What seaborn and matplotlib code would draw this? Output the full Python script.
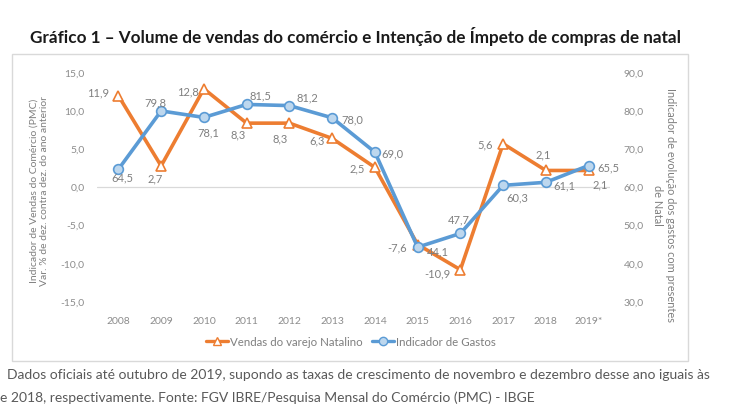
import matplotlib
matplotlib.use("Agg")
import matplotlib.pyplot as plt
import matplotlib.patches as mpatches
from matplotlib.lines import Line2D
import seaborn as sns
import pandas as pd

years = ["2008", "2009", "2010", "2011", "2012", "2013", "2014", "2015", "2016", "2017", "2018", "2019*"]
vendas = [11.9, 2.7, 12.8, 8.3, 8.3, 6.3, 2.5, -7.6, -10.9, 5.6, 2.1, 2.1]
gastos = [64.5, 79.8, 78.1, 81.5, 81.2, 78.0, 69.0, 44.1, 47.7, 60.3, 61.1, 65.5]
left_ticks = [-15, -10, -5, 0, 5, 10, 15]
right_ticks = [30, 40, 50, 60, 70, 80, 90]

title = "Gráfico 1 – Volume de vendas do comércio e Intenção de Ímpeto de compras de natal"
left_label = "Indicador de Vendas do Comércio (PMC)\nVar. % de dez. contra dez. do ano anterior"
right_label = "Indicador de evolução dos gastos com presentes\nde Natal"
legend_labels = ["Vendas do varejo Natalino", "Indicador de Gastos"]
foot1 = "Dados oficiais até outubro de 2019, supondo as taxas de crescimento de novembro e dezembro desse ano iguais às"
foot2 = "e 2018, respectivamente. Fonte: FGV IBRE/Pesquisa Mensal do Comércio (PMC) - IBGE"

# label offsets in pixels (styling)
off_v = [(-20, 4), (-6, -12), (-16, -2), (-9, -11), (-9, -15), (-15, -2), (-18, -1),
         (-21, -2), (-23, -3), (-18, 0), (-3, 17), (12, -13)]
off_g = [(4, -8), (-6, 9), (4, -15), (14, 10), (18, 9), (20, -1), (18, -1),
         (20, -4), (-2, 15), (14, -12), (19, -3), (20, -1)]

sns.set_theme(style="white")
plt.rcParams["font.family"] = ["Lato", "DejaVu Sans"]

ORANGE = "#ED7D31"
BLUE = "#5B9BD5"
GREY = "#8C8C8C"
LBL = "#7F7F7F"

fig = plt.figure(figsize=(7.54, 4.14), dpi=100)
W, H = 754, 414
ax = fig.add_axes([97 / W, 1 - 302 / H, (610 - 97) / W, (302 - 73) / H])
ax2 = ax.twinx()

df = pd.DataFrame({"ano": years, "vendas": vendas, "gastos": gastos})

sns.lineplot(data=df, x="ano", y="vendas", ax=ax, color=ORANGE, lw=2.6,
             marker="^", markersize=7, markerfacecolor="white",
             markeredgecolor=ORANGE, markeredgewidth=1.2, sort=False, legend=False, zorder=3)
sns.lineplot(data=df, x="ano", y="gastos", ax=ax2, color=BLUE, lw=2.6,
             marker="o", markersize=7, markerfacecolor="#BDD7EE",
             markeredgecolor=BLUE, markeredgewidth=1.2, sort=False, legend=False, zorder=3)

ax.set_xlim(-0.5, len(years) - 0.5)
ax.set_ylim(-15, 15)
ax2.set_ylim(30, 90)
ax.set_yticks(left_ticks)
ax.set_yticklabels([f"{v:.1f}".replace(".", ",") for v in left_ticks])
ax2.set_yticks(right_ticks)
ax2.set_yticklabels([f"{v:.1f}".replace(".", ",") for v in right_ticks])
ax.axhline(0, color="#D9D9D9", lw=0.9, zorder=1)

for a in (ax, ax2):
    for s in a.spines.values():
        s.set_visible(False)
    a.set_xlabel("")
    a.set_ylabel("")
    a.tick_params(length=0, labelsize=7.5, colors=GREY)
ax.tick_params(axis="y", pad=9)
ax.tick_params(axis="x", pad=11)
ax2.tick_params(axis="y", pad=10)
ax2.set_zorder(ax.get_zorder() + 1)
ax2.patch.set_visible(False)

for i, v in enumerate(vendas):
    ax.annotate(f"{v:.1f}".replace(".", ","), xy=(i, v), xytext=off_v[i],
                textcoords="offset pixels", ha="center", va="center",
                fontsize=8, color=LBL, zorder=5)
for i, v in enumerate(gastos):
    ax2.annotate(f"{v:.1f}".replace(".", ","), xy=(i, v), xytext=off_g[i],
                 textcoords="offset pixels", ha="center", va="center",
                 fontsize=8, color=LBL, zorder=5)

fig.text(39 / W, 1 - 191 / H, left_label, rotation=90, ha="center", va="center",
         multialignment="center", fontsize=7.5, color=LBL, linespacing=1.15)
fig.text(664 / W, 1 - 205 / H, right_label, rotation=270, ha="center", va="center",
         multialignment="center", fontsize=7.9, color=LBL, linespacing=1.15)

handles = [Line2D([0], [0], color=ORANGE, lw=2.4, marker="^", markersize=6,
                  markerfacecolor="white", markeredgecolor=ORANGE),
           Line2D([0], [0], color=BLUE, lw=2.4, marker="o", markersize=6,
                  markerfacecolor="#BDD7EE", markeredgecolor=BLUE)]
fig.legend(handles, legend_labels, loc="center", bbox_to_anchor=(351 / W, 1 - 343 / H),
           ncol=2, frameon=False, fontsize=8.3, labelcolor=LBL, handlelength=1.9,
           handletextpad=0.2, columnspacing=0.8)

# chart box
fig.patches.append(mpatches.Rectangle((12 / W, 1 - 362 / H), (688 - 12) / W, (362 - 55) / H,
                                      transform=fig.transFigure, fill=False,
                                      edgecolor="#D9D9D9", lw=1.0))

fig.text(30 / W, 1 - 37 / H, title, ha="left", va="center", fontsize=12.3,
         fontweight="bold", color="#1a1a1a")
fig.text(7 / W, 1 - 375 / H, foot1, ha="left", va="center", fontsize=10, color="#595959")
fig.text(0 / W, 1 - 398 / H, foot2, ha="left", va="center", fontsize=10, color="#595959")

fig.savefig("out.png", dpi=100)
